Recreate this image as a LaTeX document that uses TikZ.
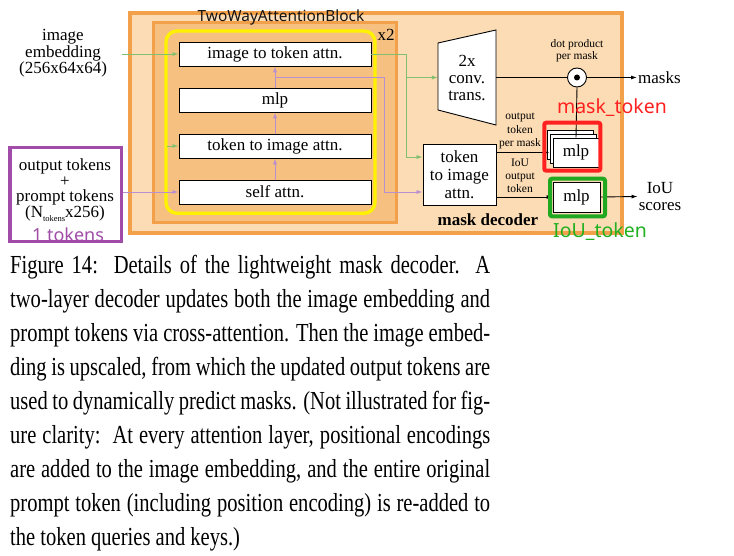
\documentclass[tikz,border=0pt]{standalone}
\usepackage{fontspec}
\setmainfont{Liberation Serif}
\newfontfamily\annfont{Noto Sans}
\usetikzlibrary{arrows.meta}
\definecolor{outerfill}{HTML}{FCDCB4}
\definecolor{innerfill}{HTML}{F6C080}
\definecolor{orangeline}{HTML}{F2A04A}
\definecolor{yellowline}{HTML}{FFF200}
\definecolor{greenC}{HTML}{80C070}
\definecolor{purpC}{HTML}{B890D0}
\definecolor{purpBox}{HTML}{A04CA8}
\definecolor{redBox}{HTML}{FF2020}
\definecolor{greenBox}{HTML}{20A820}
\definecolor{greenTxt}{HTML}{20B020}
\newcommand\dgmfont{\fontsize{17}{16.5}\selectfont}
\newcommand\mysmallfont{\fontsize{11.5}{13.2}\selectfont}
\newcommand\mycapfont{\fontsize{26}{34}\selectfont}
\newcommand\capl[1]{\scalebox{0.79}[1]{\makebox[607.6pt][s]{#1}}}
\begin{document}
\begin{tikzpicture}[x=1pt,y=-1pt,
  wbox/.style={draw=black, fill=white, line width=0.9pt, minimum width=192pt, minimum height=24pt, inner sep=0pt, font=\dgmfont},
  mbox/.style={draw=black, fill=white, line width=0.9pt, minimum width=46pt, minimum height=29pt, inner sep=0pt, font=\dgmfont},
  txt/.style={inner sep=0pt, align=center, font=\dgmfont},
  smalltxt/.style={inner sep=0pt, align=center, font=\mysmallfont},
  tip/.style={-{Latex[length=6pt,width=4pt]}},
  gconn/.style={draw=greenC, line width=0.8pt},
  pconn/.style={draw=purpC, line width=0.8pt},
  bconn/.style={draw=black, line width=0.9pt},
  capline/.style={anchor=base west, inner sep=0pt, font=\mycapfont},
  ann/.style={inner sep=0pt, font=\annfont}
]
\useasboundingbox (0,0) rectangle (734,556);
\fill[white] (0,0) rectangle (734,556);

% containers
\draw[fill=outerfill, draw=orangeline, line width=4pt] (130.3,13) rectangle (621.5,233);
\draw[fill=innerfill, draw=orangeline, line width=3.3pt] (153.3,22.7) rectangle (396.7,222.3);
\draw[draw=yellowline, line width=3.4pt, rounded corners=11pt] (166,31) rectangle (375,213.3);

\node[ann, font=\annfont\fontsize{15.4}{15.4}\selectfont, text=black!92] (twab) at (281,17.5) {TwoWayAttentionBlock};
\node[txt] (xtwo) at (386,35) {x2};

% attention block
\node[wbox] (i2t) at (275,54) {image to token attn.};
\node[wbox] (mlpa) at (275,100) {mlp};
\node[wbox] (t2i) at (275,146) {token to image attn.};
\node[wbox] (sa) at (275,192) {self attn.};

% inputs
\node[txt] (imgemb) at (63,53.5) {image\\embedding\\(256x64x64)};
\node[txt, font=\fontsize{17}{15.7}\selectfont] (tok) at (65,190) {output tokens\\+\\prompt tokens\\(N\raisebox{-4pt}{\fontsize{8.5}{8.5}\selectfont tokens}x256)};
\draw[draw=purpBox, line width=3.3pt] (10,147.3) rectangle (121.7,241.7);
\node[ann, font=\annfont\fontsize{18}{18}\selectfont, text=purpBox] (onetok) at (68,234.5) {1 tokens};

\coordinate (imgin) at (122,54);
\coordinate (gstub) at (167,146);
\coordinate (tokout) at (123,192);
\draw[gconn, tip] (imgin) -- (i2t.west);
\draw[gconn, tip] (gstub) -- (t2i.west);
\draw[pconn, tip] (tokout) -- (sa.west);
\draw[pconn, tip] (sa.north) -- (t2i.south);
\draw[pconn, tip] (t2i.north) -- (mlpa.south);
\draw[pconn, tip] (mlpa.north) -- (i2t.south);

% decoder parts
\draw[fill=white, line width=0.9pt] (438,43) -- (496,30) -- (496,125) -- (438,110) -- cycle;
\node[txt, font=\fontsize{17}{17}\selectfont, minimum width=58pt, minimum height=80pt] (conv) at (467,77.5) {2x\\conv.\\trans.};
\node[draw=black, fill=white, line width=0.9pt, minimum width=73pt, minimum height=61pt, inner sep=0pt, align=center, font=\fontsize{17}{18}\selectfont] (dect2i) at (459.5,174.5) {token\\to image\\attn.};

\coordinate (pbr) at (275,77);
\coordinate (pcorner) at (384,77);
\coordinate (gcorner) at (406,54);
\coordinate (gbr) at (406,77.5);
\draw[pconn, tip] (pbr) -- (pcorner) -- (384,192) -- (dect2i.west |- sa.west);
\draw[gconn, tip] (i2t.east) -- (gcorner) -- (406,157) -- (dect2i.west |- 0,157);
\draw[gconn, tip] (gbr) -- (conv.west);

\node[circle, draw=black, fill=white, minimum size=19pt, inner sep=0pt, line width=0.9pt] (dot) at (577,77.5) {};
\fill[black] (dot.center) circle (3pt);
\node[smalltxt, font=\fontsize{11.5}{12}\selectfont] (dotlbl) at (577,51) {dot product\\per mask};
\node[txt, anchor=west, inner sep=1pt] (masks) at (637,77.5) {masks};
\draw[bconn] (conv.east) -- (dot.west);
\draw[bconn, tip] (dot.east) -- (masks.west);

\node[mbox] (mlpc) at (570,144.5) {};
\node[mbox] (mlpb) at (573,148.5) {};
\node[mbox] (mlpm) at (576,152.5) {mlp};
\draw[bconn] (dot.south) -- (mlpm.north);
\node[mbox, minimum width=47pt, minimum height=30pt] (mlpi) at (576.5,197) {mlp};
\node[txt, font=\fontsize{17}{17}\selectfont, inner sep=1pt] (iou) at (660,196.5) {IoU\\scores};

\draw[bconn, tip] (dect2i.east |- mlpm.west) -- (mlpb.west |- mlpm.west);
\draw[bconn, tip] (dect2i.east |- mlpi.west) -- (mlpi.west);
\draw[bconn, tip] (mlpi.east) -- (iou.west);

\node[smalltxt] (outlbl) at (520,131) {output\\token\\per mask};
\node[smalltxt] (ioulbl) at (520,176) {IoU\\output\\token};
\node[txt, font=\fontsize{17}{17}\selectfont\bfseries] (mdec) at (488,220) {mask decoder};

\draw[draw=redBox, line width=4pt, rounded corners=2pt] (544.3,122.7) rectangle (600.3,170.7);
\draw[draw=greenBox, line width=4pt, rounded corners=2pt] (550,178.7) rectangle (605,216.3);
\node[ann, font=\annfont\fontsize{19.5}{19.5}\selectfont, text=redBox] (masktok) at (612,108) {mask\_token};
\node[ann, font=\annfont\fontsize{19.5}{19.5}\selectfont, text=greenTxt] (ioutok) at (600,232) {IoU\_token};

% caption
\node[capline] (c1) at (10,273) {\capl{Figure 14:\ \ Details of the lightweight mask decoder.\ \ A}};
\node[capline] (c2) at (10,307.1) {\capl{two-layer decoder updates both the image embedding and}};
\node[capline] (c3) at (10,341.2) {\capl{prompt tokens via cross-attention. Then the image embed-}};
\node[capline] (c4) at (10,375.3) {\capl{ding is upscaled, from which the updated output tokens are}};
\node[capline] (c5) at (10,409.4) {\capl{used to dynamically predict masks. (Not illustrated for fig-}};
\node[capline] (c6) at (10,443.5) {\capl{ure clarity:\ \ At every attention layer, positional encodings}};
\node[capline] (c7) at (10,477.6) {\capl{are added to the image embedding, and the entire original}};
\node[capline] (c8) at (10,511.7) {\capl{prompt token (including position encoding) is re-added to}};
\node[capline] (c9) at (10,545.8) {\scalebox{0.79}[1]{the token queries and keys.)}};
\end{tikzpicture}
\end{document}
